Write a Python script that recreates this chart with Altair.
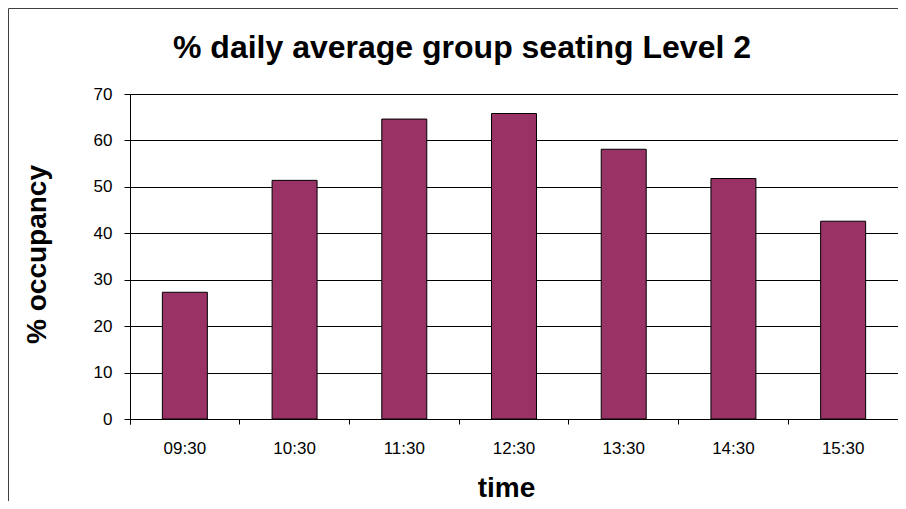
import altair as alt
import pandas as pd

# ---- data ----
times = ["09:30", "10:30", "11:30", "12:30", "13:30", "14:30", "15:30"]
occupancy = [27.3, 51.4, 64.6, 65.8, 58.1, 51.8, 42.6]
y_ticks = [0, 10, 20, 30, 40, 50, 60, 70]

title_text = "% daily average group seating Level 2"
x_title = "time"
y_title = "% occupancy"

FONT = "Liberation Sans"

df = pd.DataFrame({"time": times, "occupancy": occupancy})
one = pd.DataFrame({"k": [0]})

bars = alt.Chart(df).mark_bar(
    width=alt.RelativeBandSize(0.41),
    color="#993366",
    stroke="#000000",
    strokeWidth=1,
).encode(
    x=alt.X(
        "time:N",
        sort=times,
        scale=alt.Scale(paddingInner=0, paddingOuter=0),
        axis=alt.Axis(
            title=x_title,
            labelAngle=0,
            labelFont=FONT,
            labelFontSize=17,
            labelColor="#000000",
            labelBaseline="alphabetic",
            labelPadding=29,
            tickSize=5,
            tickColor="#000000",
            domainColor="#000000",
            bandPosition=0,
            tickExtra=True,
            grid=False,
            titleFont=FONT,
            titleFontSize=28,
            titleFontWeight="bold",
            titleColor="#000000",
            titleX=376,
            titleY=77,
            titleBaseline="alphabetic",
            titleAlign="center",
        ),
    ),
    y=alt.Y(
        "occupancy:Q",
        scale=alt.Scale(domain=[0, 70], nice=False),
        axis=alt.Axis(
            title=y_title,
            values=y_ticks,
            labelFont=FONT,
            labelFontSize=17,
            labelColor="#000000",
            labelPadding=12,
            tickSize=6,
            tickColor="#000000",
            domainColor="#000000",
            grid=True,
            gridColor="#000000",
            gridWidth=1,
            titleFont=FONT,
            titleFontSize=28,
            titleFontWeight="bold",
            titleColor="#000000",
            titleAngle=270,
            titleX=-93,
            titleY=160,
            titleBaseline="middle",
            titleAlign="center",
        ),
    ),
)

frame_left = alt.Chart(one).mark_rule(color="#404040", strokeWidth=1).encode(
    x=alt.value(-121.5), y=alt.value(-85.5), y2=alt.value(420)
)
frame_top = alt.Chart(one).mark_rule(color="#404040", strokeWidth=1).encode(
    x=alt.value(-121.5), x2=alt.value(780), y=alt.value(-85.5)
)

chart = alt.layer(bars, frame_left, frame_top).properties(
    width=768,
    height=325,
    autosize=alt.AutoSizeParams(type="none"),
    padding={"left": 122, "top": 86, "right": 0, "bottom": 82},
    title=alt.TitleParams(
        text=title_text,
        font=FONT,
        fontSize=32,
        fontWeight="bold",
        color="#000000",
        anchor="middle",
        frame="group",
        dx=-52,
        baseline="alphabetic",
        offset=-82,
    ),
).configure_view(
    stroke="#808080", strokeWidth=1
).configure(background="#ffffff")

chart.save("out.html", embed_options={"renderer": "svg", "actions": False})
